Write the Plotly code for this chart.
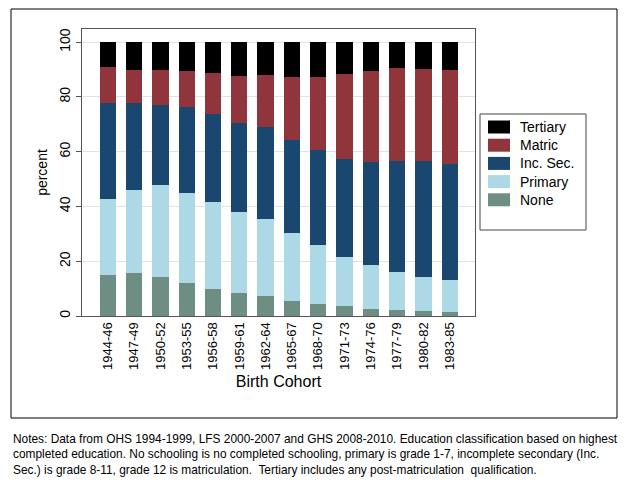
import plotly.graph_objects as go

cohorts = ["1944-46", "1947-49", "1950-52", "1953-55", "1956-58", "1959-61", "1962-64",
           "1965-67", "1968-70", "1971-73", "1974-76", "1977-79", "1980-82", "1983-85"]

# shares in percent
none_pct = [15.1, 15.6, 14.2, 11.9, 9.9, 8.3, 7.2, 5.4, 4.3, 3.5, 2.6, 2.1, 1.8, 1.3]
primary_pct = [27.8, 30.3, 33.5, 33.1, 31.7, 29.6, 28.2, 24.8, 21.8, 18.1, 15.9, 14.1, 12.4, 11.7]
incsec_pct = [34.9, 31.8, 29.4, 31.2, 32.2, 32.6, 33.5, 34.0, 34.7, 35.6, 37.8, 40.4, 42.4, 42.5]
matric_pct = [13.1, 12.1, 12.9, 13.3, 15.0, 17.2, 19.0, 23.2, 26.3, 31.2, 33.1, 33.9, 33.7, 34.5]
tertiary_pct = [9.1, 10.2, 10.0, 10.5, 11.2, 12.3, 12.1, 12.6, 12.9, 11.6, 10.6, 9.5, 9.7, 10.0]

series_names = ["None", "Primary", "Inc. Sec.", "Matric", "Tertiary"]
series_vals = [none_pct, primary_pct, incsec_pct, matric_pct, tertiary_pct]
series_colors = ["#6E8E84", "#ADD8E6", "#1A476F", "#90353B", "#000000"]

notes = ("Notes: Data from OHS 1994-1999, LFS 2000-2007 and GHS 2008-2010. Education classification based on highest<br>"
         "completed education. No schooling is no completed schooling, primary is grade 1-7, incomplete secondary (Inc.<br>"
         "Sec.) is grade 8-11, grade 12 is matriculation.  Tertiary includes any post-matriculation  qualification.")

W, H = 631, 485
L, R, T, B = 82, 156, 29, 169
PW, PH = W - L - R, H - T - B


def px(xp):
    return (xp - L) / PW


def py(yp):
    return (H - B - yp) / PH


fig = go.Figure()
for name, vals, col in zip(series_names, series_vals, series_colors):
    fig.add_trace(go.Bar(x=cohorts, y=vals, name=name, marker=dict(color=col, line=dict(width=0)),
                         width=0.62, showlegend=False))

shapes = [
    dict(type="rect", xref="paper", yref="paper", x0=px(11), x1=px(617), y0=py(9), y1=py(418),
         line=dict(color="black", width=1), fillcolor="rgba(0,0,0,0)", layer="below"),
    dict(type="rect", xref="paper", yref="paper", x0=px(480), x1=px(586), y0=py(114), y1=py(230),
         line=dict(color="#444444", width=1), fillcolor="rgba(0,0,0,0)"),
]
annotations = [
    dict(text=notes, xref="paper", yref="paper", x=px(11), y=py(430), xanchor="left", yanchor="top",
         align="left", showarrow=False, font=dict(family="Arial", size=11.9, color="black")),
]

# legend (top entry = last series)
for i, (name, col) in enumerate(zip(reversed(series_names), reversed(series_colors))):
    yc = 127 + 18.2 * i
    shapes.append(dict(type="rect", xref="paper", yref="paper", x0=px(488), x1=px(510),
                       y0=py(yc + 6.5), y1=py(yc - 6.5), line=dict(width=0), fillcolor=col))
    annotations.append(dict(text=name, xref="paper", yref="paper", x=px(518), y=py(yc),
                            xanchor="left", yanchor="middle", showarrow=False,
                            font=dict(size=14, color="black")))

fig.update_layout(
    width=W, height=H,
    margin=dict(l=L, r=R, t=T, b=B),
    barmode="stack",
    plot_bgcolor="white", paper_bgcolor="white",
    font=dict(family="Arial", color="black"),
    showlegend=False,
    xaxis=dict(range=[-0.98, 13.96], tickangle=-90, tickfont=dict(size=13), showgrid=False,
               showline=True, linecolor="#555555", mirror=True, ticks="",
               title=dict(text="Birth Cohort", font=dict(size=16), standoff=6)),
    yaxis=dict(range=[0, 104.8], tickvals=[0, 20, 40, 60, 80, 100], tickangle=-90,
               tickfont=dict(size=14), showgrid=True, gridcolor="#E2E2E2", gridwidth=1,
               showline=True, linecolor="#555555", mirror=True, ticks="outside", ticklen=5,
               tickcolor="#555555", zeroline=False,
               title=dict(text="percent", font=dict(size=14), standoff=6)),
    shapes=shapes,
    annotations=annotations,
)

fig.write_html("out.html", config={"displayModeBar": False},
               post_script="document.body.style.margin='0';document.body.style.overflow='hidden';")
